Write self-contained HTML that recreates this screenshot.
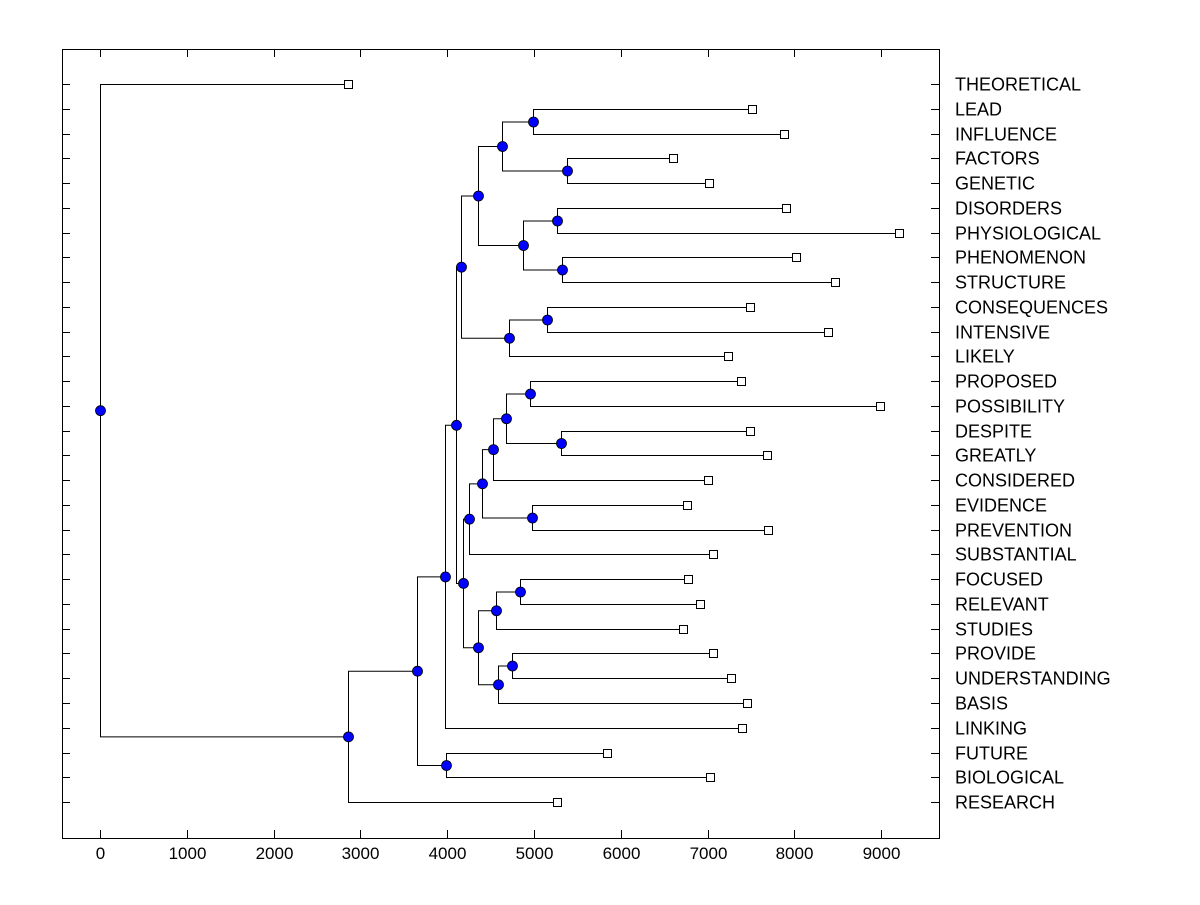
<!DOCTYPE html>
<html><head><meta charset="utf-8"><style>
body{margin:0;background:#fff;}
svg text{font-family:"Liberation Sans",Arial,sans-serif;font-size:16px;fill:#000;}
svg text.lab{font-size:18px;}
svg text.tk{font-size:17px;}
</style></head><body>
<svg id="c" width="1200" height="900"></svg>
<script>
const leafNames=["THEORETICAL","LEAD","INFLUENCE","FACTORS","GENETIC","DISORDERS","PHYSIOLOGICAL","PHENOMENON","STRUCTURE","CONSEQUENCES","INTENSIVE","LIKELY","PROPOSED","POSSIBILITY","DESPITE","GREATLY","CONSIDERED","EVIDENCE","PREVENTION","SUBSTANTIAL","FOCUSED","RELEVANT","STUDIES","PROVIDE","UNDERSTANDING","BASIS","LINKING","FUTURE","BIOLOGICAL","RESEARCH"];
const leafValues=[2857,7512,7880,6601,7016,7903,9205,8018,8468,7488,8387,7235,7385,8986,7488,7684,7005,6763,7696,7062,6774,6912,6717,7062,7269,7454,7396,5841,7028,5265];
// merges: [childA, childB, height]; leaves are 0..29, merged nodes are "n"+index
const merges=[
[1,2,4988],[3,4,5380],["n0","n1",4631],[5,6,5265],[7,8,5323],["n3","n4",4873],["n2","n5",4355],
[9,10,5150],["n7",11,4712],["n6","n8",4159],
[12,13,4954],[14,15,5311],["n10","n11",4677],["n12",16,4528],[17,18,4977],["n13","n14",4401],["n15",19,4251],
[20,21,4839],["n17",22,4562],[23,24,4747],["n19",25,4585],["n18","n20",4355],["n16","n21",4182],
["n9","n22",4101],["n23",26,3975],[27,28,3986],["n24","n25",3652],["n26",29,2857],[0,"n27",0]];
const xTicks=[0,1000,2000,3000,4000,5000,6000,7000,8000,9000];
const ns="http://www.w3.org/2000/svg",svg=document.getElementById('c');
const L=62,R=939,T=49,B=838;
const X=v=>100+v*0.0868, Yrow=i=>84+i*24.76;
function mk(t,a,p){const e=document.createElementNS(ns,t);for(const k in a)e.setAttribute(k,a[k]);(p||svg).appendChild(e);return e;}
const fr=mk('rect',{x:L+.5,y:T+.5,width:R-L,height:B-T,fill:'none',stroke:'#000'});


xTicks.forEach(v=>{const x=Math.round(X(v))+.5;
 mk('line',{x1:x,x2:x,y1:B,y2:B-8,stroke:'#000'});mk('line',{x1:x,x2:x,y1:T,y2:T+8,stroke:'#000'});
 const t=mk('text',{x:x,y:859,'text-anchor':'middle','class':'tk'});t.textContent=v;
 
 });
const pos={};
leafNames.forEach((n,i)=>{const y=Math.round(Yrow(i))+.5;pos[i]={x:X(leafValues[i]),y:y,leaf:true};
 mk('line',{x1:L,x2:L+8,y1:y,y2:y,stroke:'#000'});mk('line',{x1:R-8,x2:R,y1:y,y2:y,stroke:'#000'});
 const t=mk('text',{x:955,y:y+6,'class':'lab'});t.textContent=n;
 
 });
const lines=mk('g',{}),marks=mk('g',{});
merges.forEach((m,i)=>{const a=pos[m[0]],b=pos[m[1]],x=Math.round(X(m[2]))+.5;
 const y=(a.y+b.y)/2;pos["n"+i]={x:x,y:y};
 mk('path',{d:`M${a.x},${a.y}H${x}V${b.y}H${b.x}`,fill:'none',stroke:'#000'},lines);
 const c=mk('circle',{cx:x,cy:y,r:5,fill:'#0000ff',stroke:'#000','stroke-width':0.8},marks);
 
 });
leafNames.forEach((n,i)=>{const p=pos[i];
 const s=mk('rect',{x:Math.round(p.x)-3.5,y:p.y-4,width:8,height:8,fill:'#fff',stroke:'#000'},marks);
 
 });
</script>
</body></html>
